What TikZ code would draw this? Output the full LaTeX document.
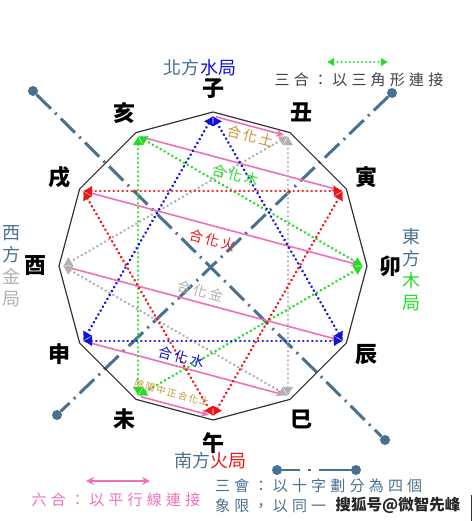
\documentclass[tikz,border=0pt]{standalone}
\usepackage{fontspec}
\setmainfont{Noto Sans CJK TC}
\newfontfamily\spacedfont[LetterSpace=18]{Noto Sans CJK TC}
\usetikzlibrary{arrows.meta}
\definecolor{axisblue}{HTML}{4A7090}
\definecolor{heblue}{HTML}{1010D8}
\definecolor{hered}{HTML}{F01414}
\definecolor{hegreen}{HTML}{22DD22}
\definecolor{hegray}{HTML}{B0B0B0}
\definecolor{hepink}{HTML}{F070B8}
\definecolor{hetu}{HTML}{C89232}
\begin{document}
\begin{tikzpicture}[x=1pt, y=1pt,
    sanhe/.style={line width=2.8pt, line cap=round, dash pattern=on 0.1pt off 4.4pt,
      {Latex[length=9pt,width=11pt]}-{Latex[length=9pt,width=11pt]}},
    liuhe/.style={hepink, line width=1.6pt, -{Stealth[length=8pt,width=7pt]},
      shorten <=3pt, shorten >=4pt},
    sanhui/.style={axisblue, line width=3pt, dash pattern=on 20pt off 6pt on 2pt off 6pt},
    huidot/.style={circle, fill=axisblue, inner sep=0pt, minimum size=10pt},
    branch/.style={font=\bfseries\fontsize{22}{22}\selectfont},
    fang/.style={font=\fontsize{18}{22}\selectfont, align=center, inner sep=0pt},
    hua/.style={font=\spacedfont\fontsize{14}{14}\selectfont, rotate=-15, inner sep=0pt},
    legend/.style={font=\fontsize{15}{15}\selectfont\addfontfeature{LetterSpace=28}, inner sep=0pt}]
  \useasboundingbox (-213,-255) rectangle (260,266);

  \foreach \name/\ang/\zhi in {zi/90/子, chou/60/丑, yin/30/寅, mao/0/卯,
      chen/-30/辰, si/-60/巳, wu/-90/午, wei/-120/未, shen/-150/申,
      you/180/酉, xu/150/戌, hai/120/亥}{
    \coordinate (v-\name) at (\ang:154);
    \coordinate (\name) at (\ang:150);
    \node[branch] (l-\name) at (\ang:177) {\zhi};
  }

  \node[huidot] (hui-nw) at (-180,175) {};
  \node[huidot] (hui-se) at (172,-174) {};
  \node[huidot] (hui-ne) at (179,173) {};
  \node[huidot] (hui-sw) at (-156,-149) {};
  \draw[sanhui] (hui-nw) -- (hui-se);
  \draw[sanhui] (hui-ne) -- (hui-sw);

  \draw[line width=1.2pt, black!80] (v-zi) -- (v-chou) -- (v-yin) -- (v-mao)
    -- (v-chen) -- (v-si) -- (v-wu) -- (v-wei) -- (v-shen) -- (v-you)
    -- (v-xu) -- (v-hai) -- cycle;

  \foreach \a/\b in {zi/chou, hai/yin, xu/mao, you/chen, shen/si, wei/wu}
    \draw[liuhe] (\a) -- (\b);

  \foreach \a/\b/\c/\col in {si/you/chou/hegray, hai/mao/wei/hegreen,
      yin/wu/xu/hered, shen/zi/chen/heblue}{
    \draw[sanhe, \col] (\a) -- (\b);
    \draw[sanhe, \col] (\b) -- (\c);
    \draw[sanhe, \col] (\c) -- (\a);
  }

  \node[hua, text=hetu] (hua-tu) at (38,130) {合化土};
  \node[hua, text=hegreen] (hua-mu) at (23,91) {合化木};
  \node[hua, text=hered] (hua-huo) at (0,26) {合化火};
  \node[hua, text=hegray] (hua-jin) at (-12,-25) {合化金};
  \node[hua, text=heblue] (hua-shui) at (-31,-91) {合化水};
  \node[hua, text=hetu, font=\spacedfont\fontsize{9.5}{9.5}\selectfont] (hua-wuwei) at (-41,-127) {陰陽中正合化土};

  \node[fang] (north) at (-13,198) {\textcolor{axisblue}{北方}\textcolor{heblue}{水局}};
  \node[fang] (south) at (-3,-195) {\textcolor{axisblue}{南方}\textcolor{hered}{火局}};
  \node[fang] (east) at (198,-4) {\textcolor{axisblue}{東}\\\textcolor{axisblue}{方}\\\textcolor{hegreen}{木}\\\textcolor{hegreen}{局}};
  \node[fang] (west) at (-201,0) {\textcolor{axisblue}{西}\\\textcolor{axisblue}{方}\\\textcolor{hegray}{金}\\\textcolor{hegray}{局}};

  \coordinate (sanhe-l) at (114,204);
  \coordinate (sanhe-r) at (175,204);
  \draw[hegreen, line width=2.2pt, line cap=round, dash pattern=on 0.1pt off 4pt,
    {Latex[length=7pt,width=9pt]}-{Latex[length=7pt,width=9pt]}] (sanhe-l) -- (sanhe-r);
  \node[legend, text=black!75] (sanhe-text) at (146,186) {三合：以三角形連接};

  \coordinate (liuhe-l) at (-127,-215);
  \coordinate (liuhe-r) at (-63,-215);
  \draw[hepink, line width=1.8pt, {Stealth[length=8pt,width=8pt]}-{Stealth[length=8pt,width=8pt]}] (liuhe-l) -- (liuhe-r);
  \node[legend, text=hepink] (liuhe-text) at (-97,-234) {六合：以平行線連接};

  \node[huidot] (key-l) at (64,-204) {};
  \node[huidot] (key-r) at (143,-204) {};
  \draw[axisblue, line width=2.5pt, dash pattern=on 18pt off 8pt on 3pt off 8pt on 40pt] (key-l) -- (key-r);
  \node[legend, text=axisblue, anchor=west] (sanhui-text) at (2,-220) {三會：以十字劃分為四個};
  \node[legend, text=axisblue, anchor=west] (sanhui-text2) at (2,-240) {象限，以同一};
  \node[inner sep=1pt, text=black!85, font=\bfseries\fontsize{15.5}{15.5}\selectfont] (mark) at (185,-239) {搜狐号@微智先峰};
  \draw[black!80, line width=1pt] (258,-229) -- (258,-255);
\end{tikzpicture}
\end{document}
